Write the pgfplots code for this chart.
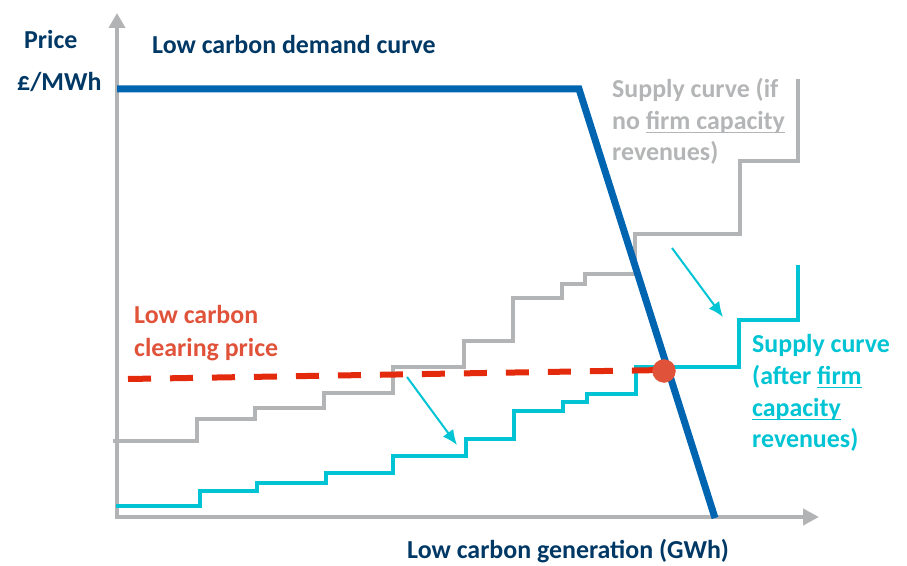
\documentclass[border=0pt]{standalone}
\usepackage{pgfplots}
\pgfplotsset{compat=1.18}
\usepackage{fontspec}
\setmainfont{Carlito}
\usetikzlibrary{arrows.meta}

\definecolor{navy}{RGB}{0,56,101}
\definecolor{demand}{RGB}{0,101,176}
\definecolor{axisgray}{RGB}{177,179,180}
\definecolor{supgray}{RGB}{178,180,181}
\definecolor{txtgray}{RGB}{180,181,182}
\definecolor{cyanline}{RGB}{0,196,211}
\definecolor{clearred}{RGB}{228,42,12}
\definecolor{dotred}{RGB}{224,83,58}

% underline that sits just under the baseline
\newcommand\ul[1]{\setbox0\hbox{#1}\rlap{\rule[-3.5bp]{\wd0}{1.6bp}}\box0}

\tikzset{lbl/.style={font=\fontsize{26}{30}\selectfont\bfseries, inner sep=0pt, anchor=base west}}

\begin{document}
\begin{tikzpicture}
\begin{axis}[
  scale only axis, width=907bp, height=566bp,
  xmin=-117, xmax=790, ymin=-49, ymax=517,
  axis line style={draw=none}, xtick=\empty, ytick=\empty,
  clip=false,
]
% axes
\addplot[axisgray, line width=4.5bp, -{Triangle[length=15bp,width=16bp]}] coordinates {(0,-2) (0,504)};
\addplot[axisgray, line width=4.5bp, -{Triangle[length=16bp,width=16bp]}] coordinates {(-2,0) (702,0)};

% supply curve without firm capacity revenues
\addplot[supgray, line width=4bp, const plot, line join=miter] coordinates {
  (-4,76) (80,98) (138,109) (207,124) (276,150) (347,176) (396,219)
  (445,233) (468,243) (518,283) (623,356) (681,438)};

% supply curve after firm capacity revenues
\addplot[cyanline, line width=4bp, const plot, line join=miter] coordinates {
  (-1,11) (83,26) (140,34) (209,44) (276,61) (349,78) (397,106)
  (446,115) (470,123) (519,150) (622,197) (681,252)};

% clearing price
\addplot[clearred, line width=6bp, dash pattern=on 23bp off 19bp] coordinates {(11,138) (547,147)};

% demand curve
\addplot[demand, line width=7bp, line join=miter] coordinates {(0,428) (462,428) (598,-1)};

% clearing point
\addplot[only marks, mark=*, mark size=11.5, color=dotred] coordinates {(547,146)};

% shift arrows
\addplot[cyanline, line width=2bp, -{Latex[length=15bp,width=13bp]}] coordinates {(290,140) (340,72)};
\addplot[cyanline, line width=2bp, -{Latex[length=15bp,width=13bp]}] coordinates {(555,269) (606,200)};

% labels
\node[lbl, text=navy] at (axis cs:-93,468) {Price};
\node[lbl, text=navy] at (axis cs:-100,426) {£/MWh};
\node[lbl, text=navy] at (axis cs:35,463) {Low carbon demand curve};
\node[lbl, text=navy] at (axis cs:290,-41) {Low carbon generation (GWh)};

\node[lbl, text=txtgray] at (axis cs:495,419) {Supply curve (if};
\node[lbl, text=txtgray] at (axis cs:495,387) {no \ul{firm capacity}};
\node[lbl, text=txtgray] at (axis cs:495,356) {revenues)};

\node[lbl, text=dotred] at (axis cs:17,193) {Low carbon};
\node[lbl, text=dotred] at (axis cs:17,160) {clearing price};

\node[lbl, text=cyanline] at (axis cs:635,164) {Supply curve};
\node[lbl, text=cyanline] at (axis cs:635,132) {(after \ul{firm}};
\node[lbl, text=cyanline] at (axis cs:635,100) {\ul{capacity}};
\node[lbl, text=cyanline] at (axis cs:635,69) {revenues)};
\end{axis}
\end{tikzpicture}
\end{document}
